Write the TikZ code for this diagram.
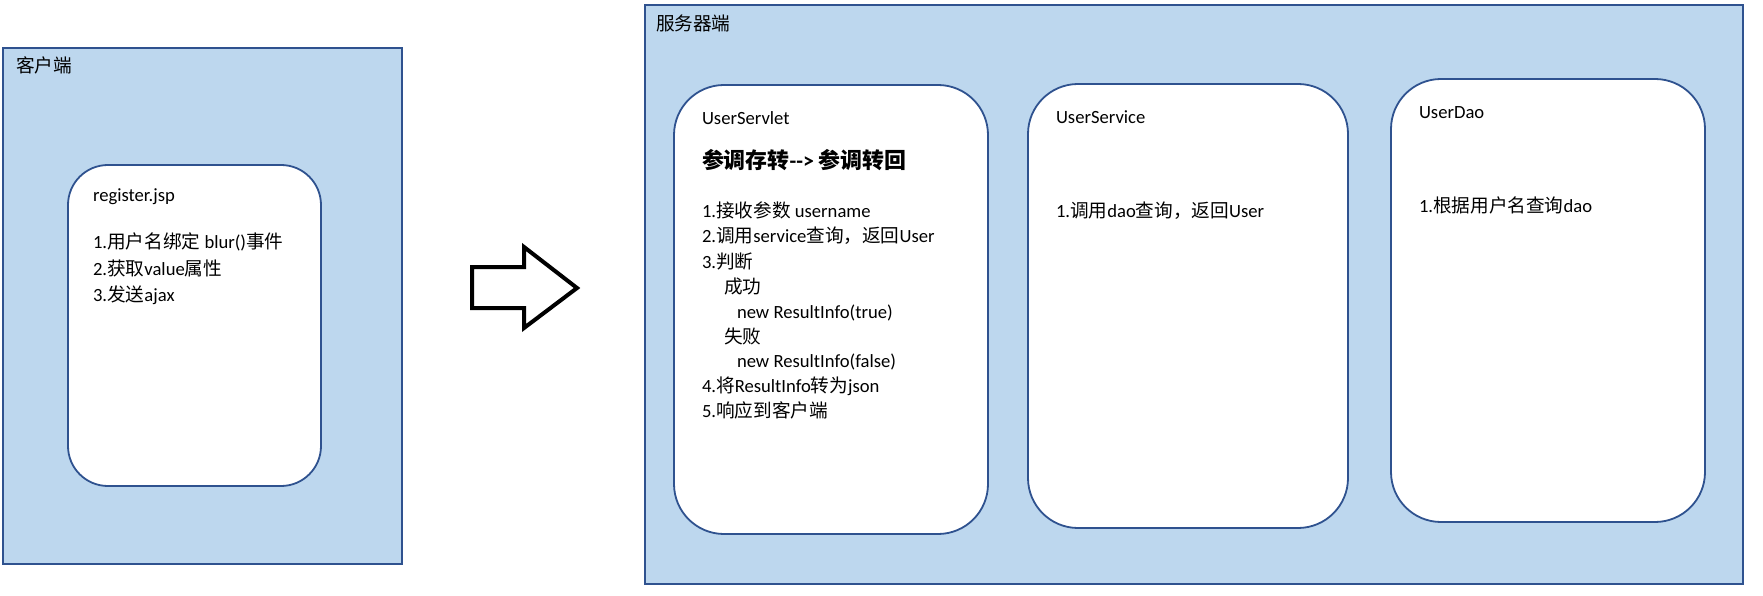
\documentclass[tikz,border=0pt]{standalone}
\usepackage{fontspec}
\setmainfont{Carlito}
\newfontfamily\cjk{Noto Sans CJK SC}
\newcommand\zh[1]{{\cjk #1}}
\definecolor{panelfill}{HTML}{BDD7EE}
\definecolor{panelline}{HTML}{2F528F}
\begin{document}
\begin{tikzpicture}[x=1bp,y=-1bp,
  panel/.style={draw=panelline,fill=panelfill,line width=1.8bp,rectangle,inner sep=0pt},
  card/.style={draw=panelline,fill=white,line width=1.8bp,rectangle,inner sep=0pt},
  txt/.style={anchor=base west,inner sep=0pt,outer sep=0pt,text=black,font=\fontsize{18.7}{24}\selectfont},
  head/.style={anchor=base west,inner sep=0pt,outer sep=0pt,text=black,font=\fontsize{22}{26}\selectfont\bfseries}]
\useasboundingbox (0,0) rectangle (1763,596);
% outer panels
\node[panel,minimum width=399bp,minimum height=516bp] (client) at (202.5,306) {};
\node[panel,minimum width=1098bp,minimum height=579bp] (server) at (1194,294.5) {};
\node[txt] (clientlbl) at (16,73) {\zh{客户端}};
\node[txt] (serverlbl) at (656,31) {\zh{服务器端}};
% cards
\node[card,rounded corners=40bp,minimum width=253bp,minimum height=321bp] (register) at (194.5,325.5) {};
\node[card,rounded corners=50bp,minimum width=314bp,minimum height=449bp] (servlet) at (831,309.5) {};
\node[card,rounded corners=50bp,minimum width=320bp,minimum height=444bp] (service) at (1188,306) {};
\node[card,rounded corners=50bp,minimum width=314bp,minimum height=443bp] (dao) at (1548,300.5) {};
% register.jsp text
\node[txt] (r0) at (93,202) {register.jsp};
\node[txt] (r1) at (93,249) {1.\zh{用户名绑定} blur()\zh{事件}};
\node[txt] (r2) at (93,275) {2.\zh{获取}value\zh{属性}};
\node[txt] (r3) at (93,301) {3.\zh{发送}ajax};
% UserServlet text
\node[txt] (s0) at (702,125) {UserServlet};
\node[head] (sh) at (702,169) {\zh{参调存转}-{}-> \zh{参调转回}};
\node[txt] (s1) at (702,218) {1.\zh{接收参数} username};
\node[txt] (s2) at (702,243) {2.\zh{调用}service\zh{查询，返回}User};
\node[txt] (s3) at (702,268) {3.\zh{判断}};
\node[txt] (s4) at (724,293) {\zh{成功}};
\node[txt] (s5) at (737,318) {new ResultInfo(true)};
\node[txt] (s6) at (724,343) {\zh{失败}};
\node[txt] (s7) at (737,367.5) {new ResultInfo(false)};
\node[txt] (s8) at (702,392.5) {4.\zh{将}ResultInfo\zh{转为}json};
\node[txt] (s9) at (702,417) {5.\zh{响应到客户端}};
% UserService text
\node[txt] (v0) at (1056,124) {UserService};
\node[txt] (v1) at (1056,218) {1.\zh{调用}dao\zh{查询，返回}User};
% UserDao text
\node[txt] (d0) at (1419,119) {UserDao};
\node[txt] (d1) at (1419,213) {1.\zh{根据用户名查询}dao};
% block arrow
\draw[line width=4bp,line join=miter,draw=black,fill=white]
  (472,267) -- (524,267) -- (524,247) -- (577,288) -- (524,328) -- (524,308) -- (472,308) -- cycle;
\end{tikzpicture}
\end{document}
